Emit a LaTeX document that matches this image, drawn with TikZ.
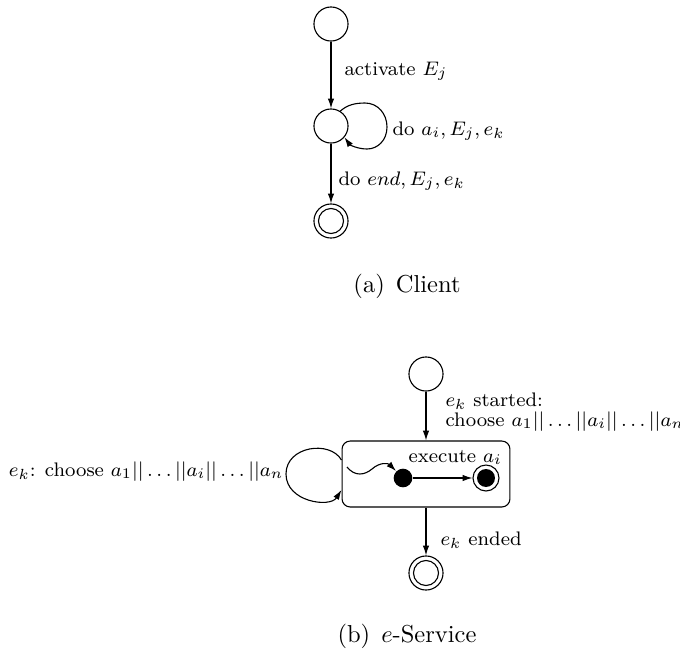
\documentclass[tikz,border=0pt]{standalone}
\usetikzlibrary{arrows.meta}
\begin{document}
\begin{tikzpicture}[x=0.408pt,y=-0.408pt,line width=0.45pt,
  arr/.style={-{Latex[length=4pt,width=2.6pt]}},
  st/.style={circle,draw,minimum size=13.9pt,inner sep=0pt},
  fin/.style={path picture={\draw (path picture bounding box.center) circle[radius=5.1pt];}},
  lbl/.style={font=\footnotesize,inner sep=0pt},
  captext/.style={font=\normalsize,inner sep=0pt,anchor=base}]
\useasboundingbox (0,0) rectangle (680,654);
% (a) Client
\node[st] (a1) at (331,24) {};
\node[st] (a2) at (331,126) {};
\node[st,fin] (a3) at (331,221) {};
\draw[arr] (a1) -- (a2);
\draw[arr] (a2) -- (a3);
\draw[arr] (a2.58) .. controls (347,105) and (355,103) .. (365,103)
  .. controls (378,103) and (387,114) .. (387,127)
  .. controls (387,140) and (378,149) .. (367,149)
  .. controls (358,149) and (350,145) .. (a2.-40);
\node[lbl,anchor=base west] (la1) at (344,75) {activate $E_j$};
\node[lbl,anchor=base west] (la2) at (392,135) {do $a_i, E_j, e_k$};
\node[lbl,anchor=base west] (la3) at (338,185) {do $end, E_j, e_k$};
\node[captext] (capa) at (407,292) {(a)\hspace{0.45em}Client};
% (b) e-Service
\node[st] (b1) at (426,374) {};
\node[draw,rounded corners=3.3pt,minimum width=68.5pt,minimum height=26.9pt,inner sep=0pt] (box) at (426,474) {};
\node[st,fin] (b3) at (426,573) {};
\draw[arr] (b1) -- (box);
\draw[arr] (box) -- (b3);
\draw[arr] ([yshift=5.7pt]box.west) .. controls (330,440) and (286,446) .. (286,474)
  .. controls (286,502) and (330,508) .. ([yshift=-6.5pt]box.west);
\node[circle,fill,minimum size=7.6pt,inner sep=0pt] (d1) at (403,478) {};
\node[circle,draw,minimum size=10.6pt,inner sep=0pt,
  path picture={\fill (path picture bounding box.center) circle[radius=3.67pt];}] (d2) at (486,478) {};
\draw[arr] (d1) -- (d2);
\coordinate (sq) at (347,467);
\draw[arr] (sq) .. controls (355,477) and (365,475) .. (372,469)
  .. controls (380,462) and (388,463) .. (d1.135);
\node[lbl,anchor=base west] (lb3) at (408,462) {execute $a_i$};
\node[lbl,anchor=base west,align=left] (lb1) at (445,426) {$e_k$ started:\\[-1.5pt]choose $a_1||\ldots||a_i||\ldots||a_n$};
\node[lbl,anchor=base east] (lb2) at (284,476) {$e_k$: choose $a_1||\ldots||a_i||\ldots||a_n$};
\node[lbl,anchor=base west] (lb4) at (440,545) {$e_k$ ended};
\node[captext] (capb) at (407,642) {(b)\hspace{0.45em}$e$-Service};
\end{tikzpicture}
\end{document}
